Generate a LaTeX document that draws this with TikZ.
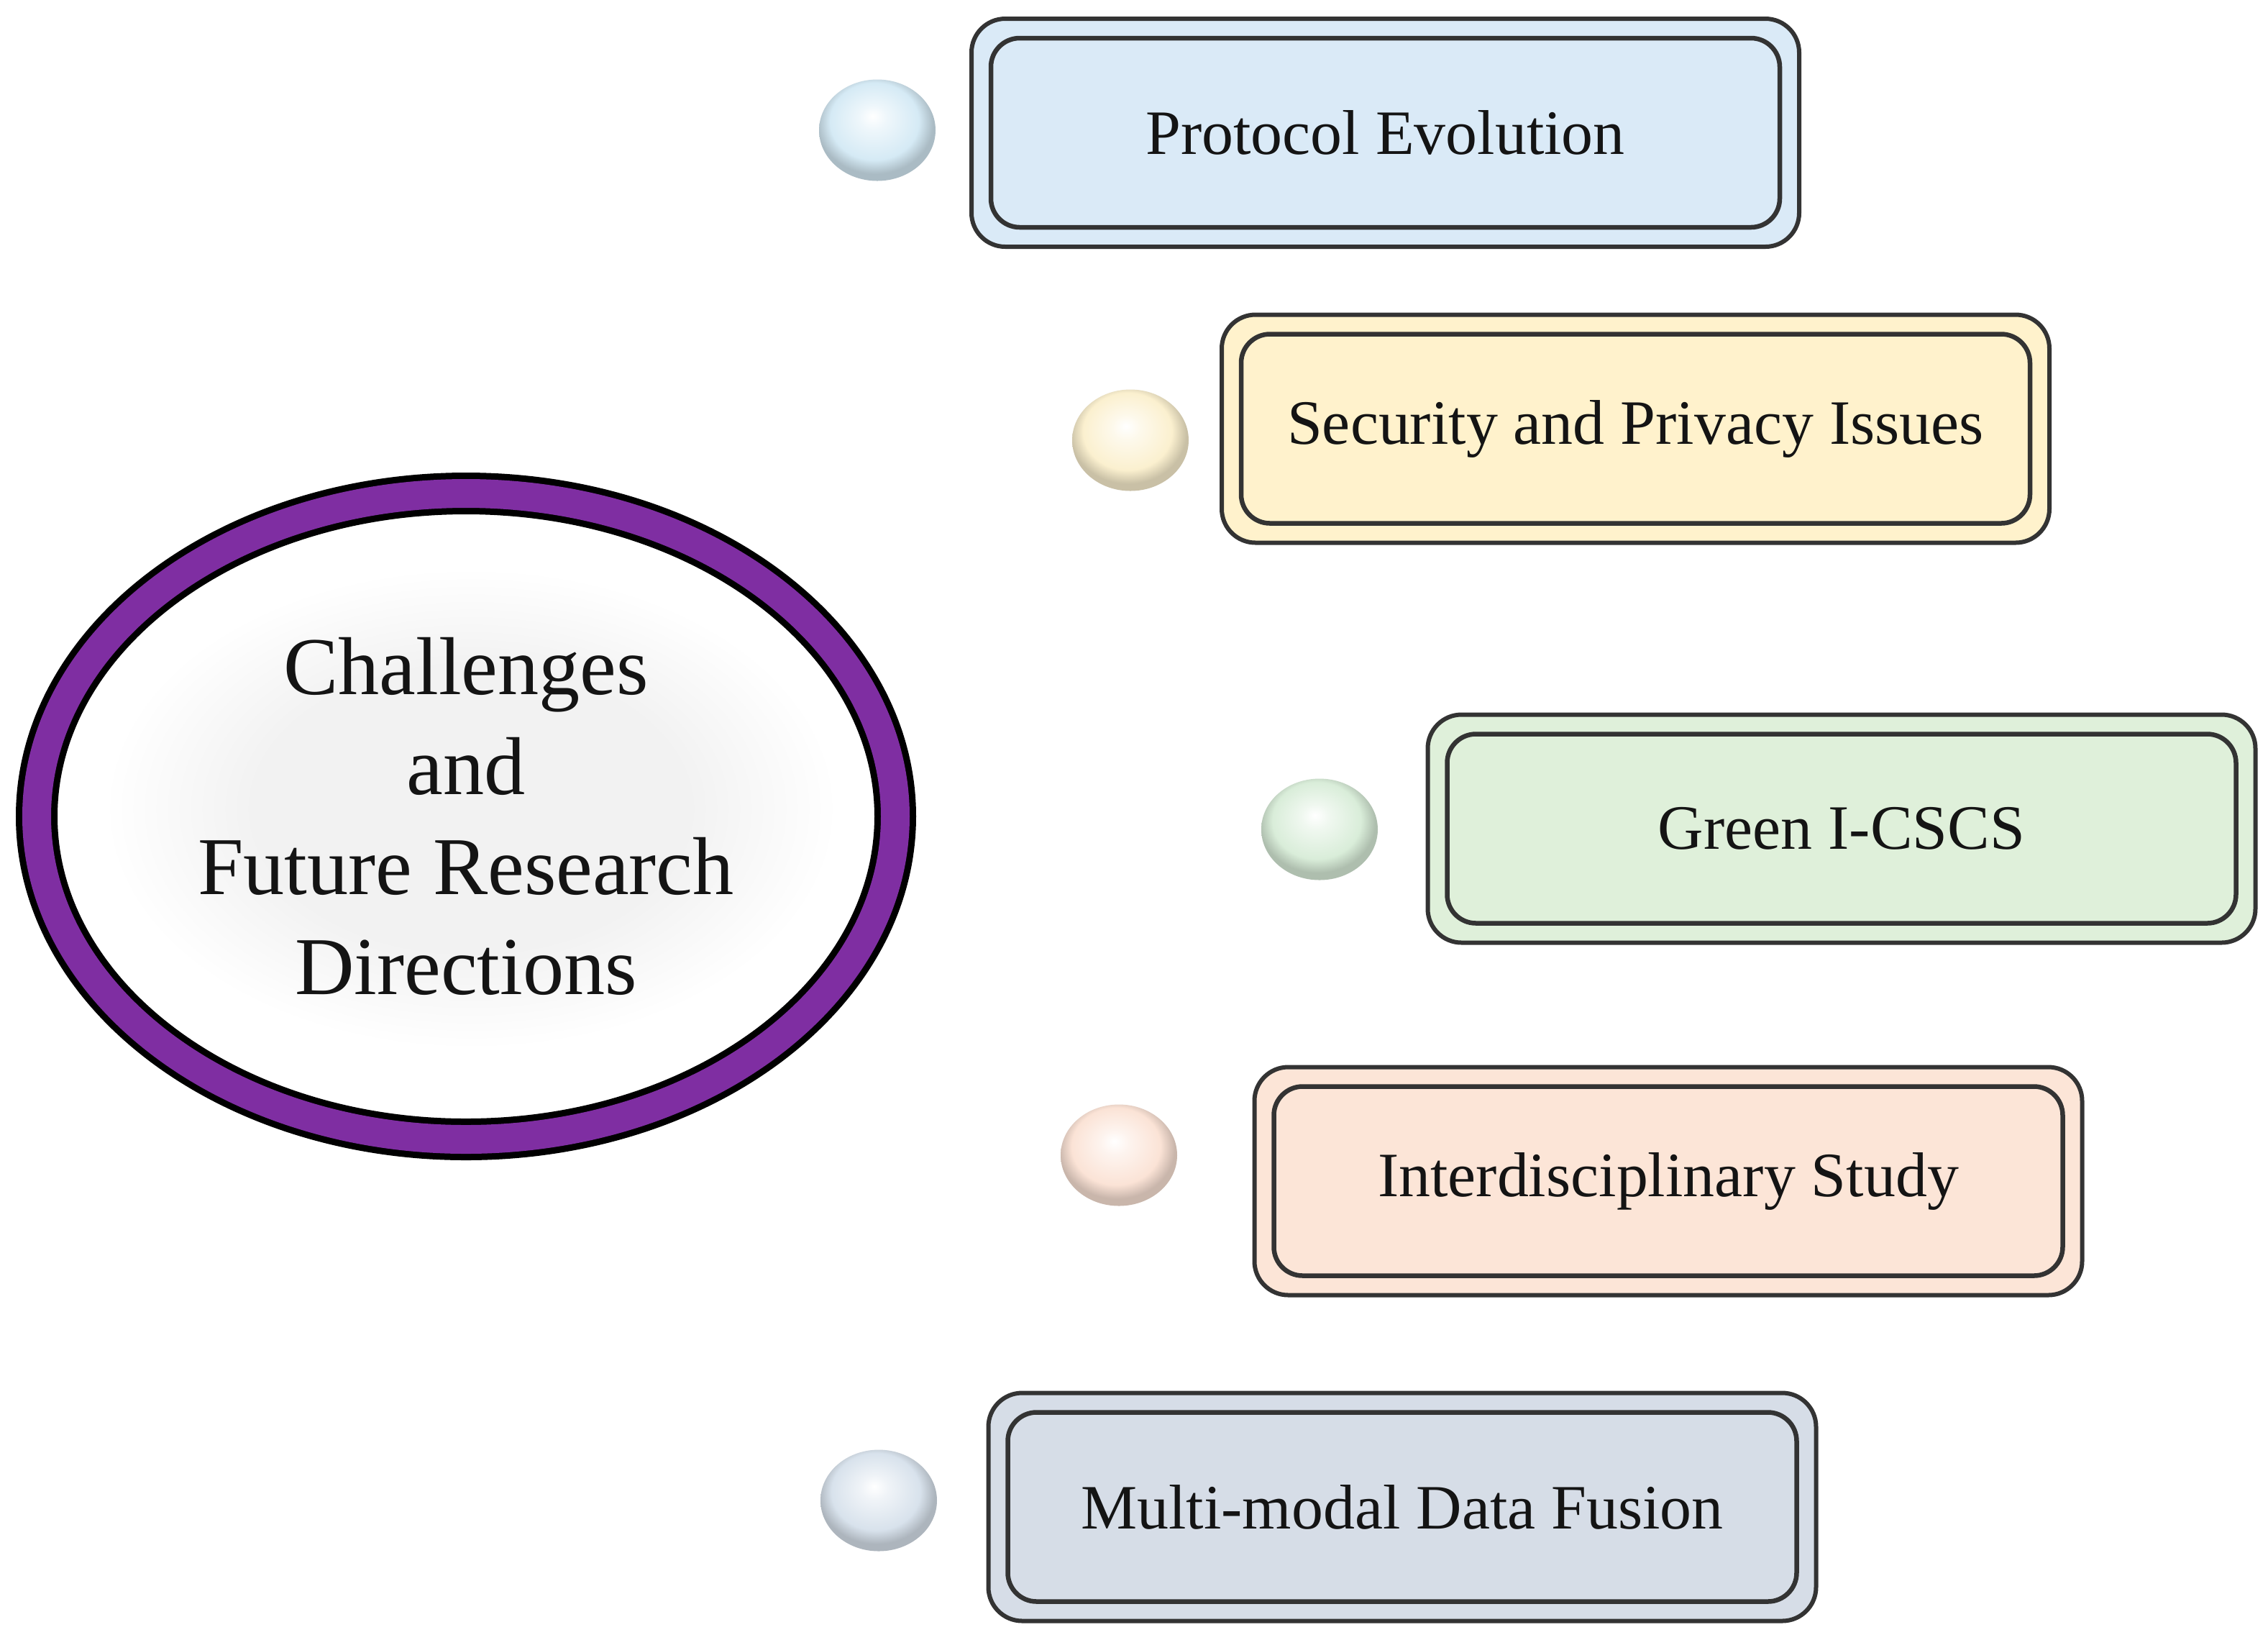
\documentclass[tikz,border=0pt]{standalone}
\usepackage{fontspec}
\setmainfont{Liberation Serif}
\usetikzlibrary{shapes.geometric}

\definecolor{ringpurple}{RGB}{127,46,162}
\definecolor{edgegray}{HTML}{333333}
\definecolor{ink}{HTML}{141414}
\definecolor{fillevo}{HTML}{DAEAF7}
\definecolor{fillsec}{HTML}{FFF2CC}
\definecolor{fillgreen}{HTML}{DFF0DA}
\definecolor{fillinter}{HTML}{FCE5D7}
\definecolor{fillfusion}{HTML}{D6DDE7}
\definecolor{beadevo}{HTML}{D5EAF5}
\definecolor{beadsec}{HTML}{FBF0CF}
\definecolor{beadgreen}{HTML}{D9EDD9}
\definecolor{beadinter}{HTML}{FBE3D6}
\definecolor{beadfusion}{HTML}{D8E2EC}
\colorlet{beadc}{beadevo}

\pgfdeclareradialshading[beadc]{bead}{\pgfpoint{-2bp}{7bp}}{color(0bp)=(white); color(6bp)=(beadc!40!white); color(19bp)=(beadc); color(25bp)=(beadc!80!black); color(50bp)=(beadc!80!black)}
\pgfdeclareradialshading{glow}{\pgfpoint{0bp}{0bp}}{color(0bp)=(black!5); color(15bp)=(black!5); color(25bp)=(white); color(50bp)=(white)}

\begin{document}
\begin{tikzpicture}
  \tikzstyle{box}=[rectangle, rounded corners=0.47cm, draw=edgegray, line width=0.06cm, outer sep=0pt, minimum width=11.51cm, minimum height=3.17cm, text=ink, font=\fontsize{25}{30}\selectfont]
  \tikzstyle{lining}=[draw=edgegray, line width=0.065cm, rounded corners=0.4cm]
  \tikzstyle{bead}=[ellipse, minimum width=1.62cm, minimum height=1.41cm, inner sep=0pt, shading=bead]
  \tikzstyle{hub}=[ellipse, draw=black, line width=0.09cm, double=ringpurple, double distance=0.40cm, minimum width=11.94cm, minimum height=8.98cm, align=center, text=ink, font=\fontsize{32.5}{39.5}\selectfont]

  \fill[white] (0,0) rectangle (31.54,-22.79);
  \shade[shading=glow] (6.55,-11.24) ellipse (5.1 and 3.35);
  \node[hub] (core) at (6.48,-11.35) {Challenges\\and\\Future Research\\Directions};

  \foreach \i/\x/\y/\bx/\by/\fc/\bc/\t in {
      1/19.265/-1.845/12.20/-1.81/fillevo/beadevo/Protocol Evolution,
      2/22.745/-5.96/15.72/-6.12/fillsec/beadsec/Security and Privacy Issues,
      3/25.61/-11.52/18.35/-11.53/fillgreen/beadgreen/Green I-CSCS,
      4/23.20/-16.42/15.56/-16.06/fillinter/beadinter/Interdisciplinary Study,
      5/19.50/-20.95/12.22/-20.86/fillfusion/beadfusion/Multi-modal Data Fusion} {
    \colorlet{beadc}{\bc}
    \node[box, fill=\fc] (n\i) at (\x,\y) {\t};
    \draw[lining] ([shift={(0.27,0.27)}]n\i.south west) rectangle ([shift={(-0.27,-0.27)}]n\i.north east);
    \node[bead] (b\i) at (\bx,\by) {};
  }
\end{tikzpicture}
\end{document}
